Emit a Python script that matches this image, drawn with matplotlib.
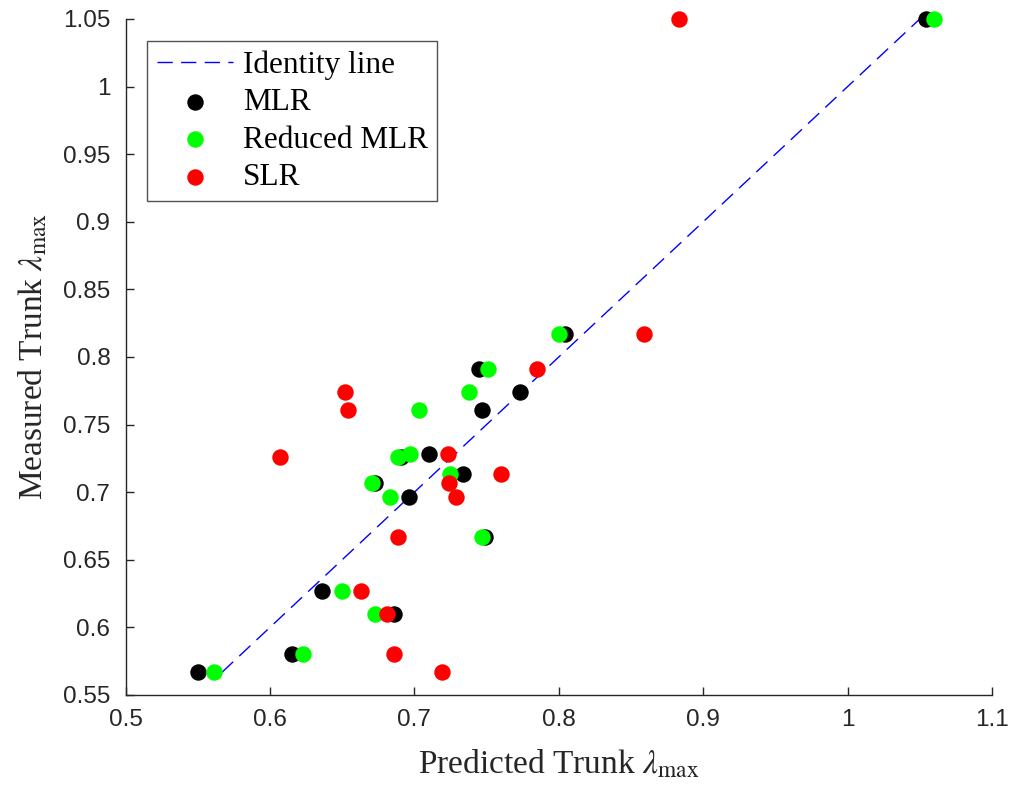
import numpy as np
import matplotlib
matplotlib.use("Agg")
import matplotlib.pyplot as plt

# measured trunk lambda_max (same for all three models)
measured = [1.050, 0.8168, 0.7911, 0.7739, 0.7608, 0.7280, 0.7263, 0.7135,
            0.7066, 0.6967, 0.6670, 0.6271, 0.6100, 0.5800, 0.5668]
# predicted values per model
pred_mlr = [1.054, 0.804, 0.745, 0.773, 0.747, 0.710, 0.691, 0.734,
            0.673, 0.696, 0.749, 0.636, 0.686, 0.615, 0.550]
pred_reduced = [1.060, 0.800, 0.751, 0.738, 0.703, 0.697, 0.689, 0.725,
                0.671, 0.683, 0.747, 0.650, 0.673, 0.623, 0.561]
pred_slr = [0.883, 0.859, 0.785, 0.652, 0.654, 0.723, 0.607, 0.760,
            0.724, 0.729, 0.689, 0.663, 0.681, 0.686, 0.719]

xticks = [0.5, 0.6, 0.7, 0.8, 0.9, 1.0, 1.1]
yticks = [0.55, 0.6, 0.65, 0.7, 0.75, 0.8, 0.85, 0.9, 0.95, 1.0, 1.05]

plt.rcParams['mathtext.fontset'] = 'stix'
serif = 'Liberation Serif'

fig = plt.figure(figsize=(10.10, 7.91), dpi=100)
ax = fig.add_axes([0.1243, 0.1214, 0.8579, 0.8546])

lo, hi = min(measured), max(measured)
ax.plot([lo, hi], [lo, hi], color='#0000ff', lw=1.0, dashes=(11, 6),
        label='Identity line', zorder=2)
ms = 140
ax.scatter(pred_mlr, measured, s=ms, c='black', lw=0, label='MLR',
           zorder=3, clip_on=False)
ax.scatter(pred_reduced, measured, s=ms, c='#00ff00', lw=0, label='Reduced MLR',
           zorder=4, clip_on=False)
ax.scatter(pred_slr, measured, s=ms, c='#ff0000', lw=0, label='SLR',
           zorder=5, clip_on=False)

ax.set_xlim(0.5, 1.1)
ax.set_ylim(0.55, 1.05)
ax.set_xticks(xticks)
ax.set_yticks(yticks)
ax.set_xticklabels(['%g' % v for v in xticks])
ax.set_yticklabels(['%g' % v for v in yticks])
ax.tick_params(direction='in', length=6, width=1, colors='#262626',
               labelsize=17.5)
ax.tick_params(axis='y', pad=11)
ax.tick_params(axis='x', pad=10)
for lab in ax.get_xticklabels() + ax.get_yticklabels():
    lab.set_family('Liberation Sans')
for s in ['top', 'right']:
    ax.spines[s].set_visible(False)
for s in ['left', 'bottom']:
    ax.spines[s].set_color('#262626')
    ax.spines[s].set_linewidth(1.0)

ax.set_xlabel(r'Predicted Trunk $\lambda_{\mathrm{max}}$', fontsize=24,
              family=serif, color='#262626', labelpad=12)
ax.set_ylabel(r'Measured Trunk $\lambda_{\mathrm{max}}$', fontsize=24,
              family=serif, color='#262626', labelpad=10)

leg = ax.legend(loc='upper left', prop={'family': serif, 'size': 22.5},
                frameon=True, fancybox=False, edgecolor='#262626',
                borderaxespad=0.7, handlelength=2.45, handletextpad=0.3,
                labelspacing=0.27, borderpad=0.3, scatterpoints=1)
leg.get_frame().set_linewidth(1.0)

fig.savefig('out.png', dpi=100)
